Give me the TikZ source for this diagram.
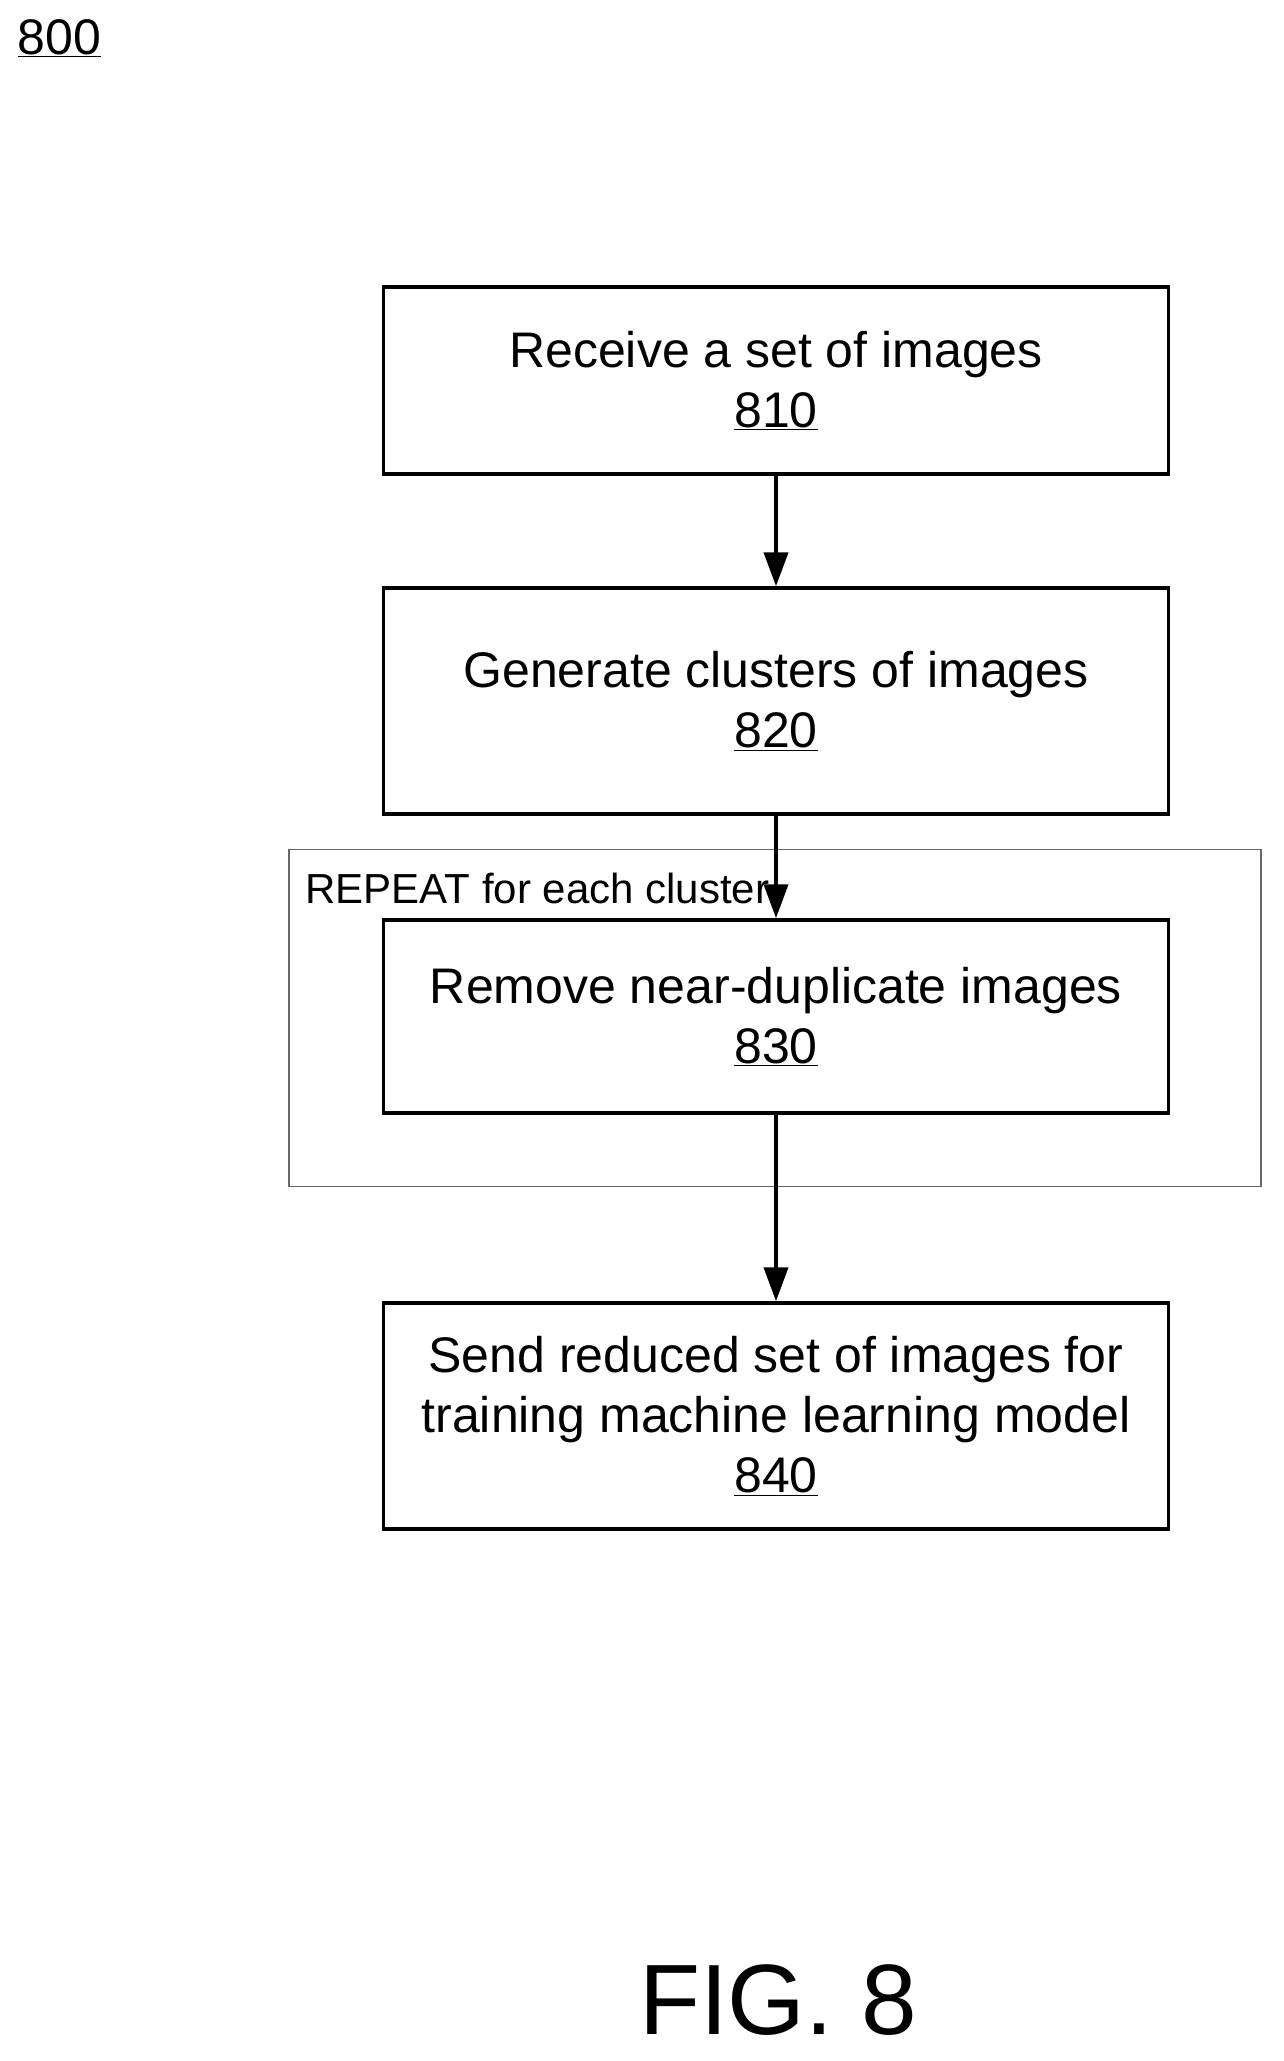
\documentclass[tikz,border=0pt]{standalone}
\usepackage{fontspec}
\setmainfont{Liberation Sans}
\usetikzlibrary{arrows.meta}
\begin{document}
\begin{tikzpicture}[x=1pt,y=-1pt,
  box/.style={draw,line width=3.5pt,minimum width=785pt,align=center,inner sep=0pt,
    font=\fontsize{50}{60}\selectfont},
  arr/.style={line width=4pt,-{Triangle[length=34pt,width=24pt]}}]
\useasboundingbox (0,0) rectangle (1283,2061);
\node[anchor=west,font=\fontsize{50}{56}\selectfont] (n800) at (14,38) {\underline{800}};
\node[draw=black!60,line width=1.5pt,minimum width=972pt,minimum height=337pt,inner sep=0pt] (frame) at (775,1018) {};
\node[anchor=west,font=\fontsize{42}{48}\selectfont] (rep) at (302,888) {REPEAT for each cluster};
\node[box,minimum height=187pt] (b810) at (776,380.5) {Receive a set of images\\\underline{810}};
\node[box,minimum height=226pt] (b820) at (776,701) {Generate clusters of images\\\underline{820}};
\node[box,minimum height=193pt] (b830) at (776,1016.5) {Remove near-duplicate images\\\underline{830}};
\node[box,minimum height=226pt] (b840) at (776,1416) {Send reduced set of images for\\training machine learning model\\\underline{840}};
\draw[arr] (b810.south) -- (b820.north);
\draw[arr] (b820.south) -- (b830.north);
\draw[arr] (b830.south) -- (b840.north);
\node[font=\fontsize{100}{110}\selectfont] (fig) at (778,2000) {FIG. 8};
\end{tikzpicture}
\end{document}
